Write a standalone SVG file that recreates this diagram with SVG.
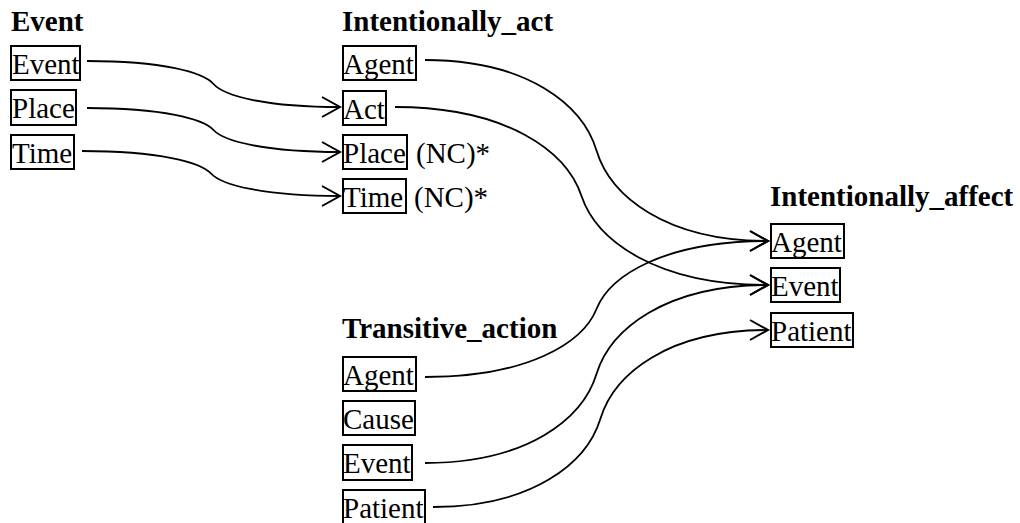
<svg xmlns="http://www.w3.org/2000/svg" width="1020" height="523" viewBox="0 0 1020 523">
<style>
text{font-family:"Liberation Serif","Times New Roman",serif;font-size:29px;fill:#000}
.t{font-weight:bold}
rect{fill:none;stroke:#000;stroke-width:2}
.c path{fill:none;stroke:#000;stroke-width:1.8}
</style>
<defs>
<marker id="ah" markerUnits="userSpaceOnUse" markerWidth="24" markerHeight="24" viewBox="-20 -12 22 24" refX="0" refY="0" orient="auto">
<path d="M-18,-10 L0,0 L-18,10" fill="none" stroke="#000" stroke-width="2"/>
</marker>
</defs>
<rect x="0" y="0" width="1020" height="523" style="fill:#fff;stroke:none"/>
<g id="frame-event">
<text class="t" x="11" y="31">Event</text>
<g id="event-event"><rect x="11" y="46" width="69" height="34"/><text x="12" y="74">Event</text></g>
<g id="event-place"><rect x="11" y="90" width="65" height="35"/><text x="12" y="118">Place</text></g>
<g id="event-time"><rect x="11" y="135" width="63" height="34"/><text x="12" y="163">Time</text></g>
</g>
<g id="frame-intentionally-act">
<text class="t" x="342" y="31">Intentionally_act</text>
<g id="ia-agent"><rect x="343" y="46" width="73" height="34"/><text x="343" y="74">Agent</text></g>
<g id="ia-act"><rect x="343" y="91" width="43" height="34"/><text x="343" y="119">Act</text></g>
<g id="ia-place"><rect x="343" y="135" width="64" height="34"/><text x="343" y="163">Place</text><text x="416" y="163">(NC)*</text></g>
<g id="ia-time"><rect x="343" y="179" width="63" height="34"/><text x="343" y="207">Time</text><text x="414" y="207">(NC)*</text></g>
</g>
<g id="frame-intentionally-affect">
<text class="t" x="770" y="206">Intentionally_affect</text>
<g id="iaf-agent"><rect x="771" y="224" width="73" height="34"/><text x="771" y="252">Agent</text></g>
<g id="iaf-event"><rect x="771" y="268" width="69" height="34"/><text x="771" y="296">Event</text></g>
<g id="iaf-patient"><rect x="771" y="313" width="82" height="34"/><text x="771" y="341">Patient</text></g>
</g>
<g id="frame-transitive-action">
<text class="t" x="342" y="338">Transitive_action</text>
<g id="ta-agent"><rect x="343" y="357" width="73" height="34"/><text x="343" y="385">Agent</text></g>
<g id="ta-cause"><rect x="343" y="401" width="72" height="34"/><text x="343" y="429">Cause</text></g>
<g id="ta-event"><rect x="343" y="445" width="69" height="35"/><text x="343" y="473">Event</text></g>
<g id="ta-patient"><rect x="343" y="490" width="82" height="34"/><text x="343" y="518">Patient</text></g>
</g>
<g id="connectors" class="c">
<path marker-end="url(#ah)" d="M87,61 C163,61 203.4,72.5 213.5,84 C223.6,95.5 264,107 340,107"/>
<path marker-end="url(#ah)" d="M87,108 C163,108 203.4,119 213.5,130 C223.6,141 264,152 340,152"/>
<path marker-end="url(#ah)" d="M82,151 C159.4,151 200.7,162.25 211,173.5 C221.3,184.75 262.6,196 340,196"/>
<path marker-end="url(#ah)" d="M425,60 C527.9,60 582.8,105.25 596.5,150.5 C610.2,195.75 665.1,241 768,241"/>
<path marker-end="url(#ah)" d="M395,107 C506.9,107 566.6,151.5 581.5,196 C596.4,240.5 656.1,285 768,285"/>
<path marker-end="url(#ah)" d="M425,377 C527.9,377 582.8,343 596.5,309 C610.2,275 665.1,241 768,241"/>
<path marker-end="url(#ah)" d="M425,463 C527.9,463 582.8,418.5 596.5,374 C610.2,329.5 665.1,285 768,285"/>
<path marker-end="url(#ah)" d="M433,507 C533,507 587.1,462.75 600.5,418.5 C613.9,374.25 667.5,330 768,330"/>
</g>
</svg>
